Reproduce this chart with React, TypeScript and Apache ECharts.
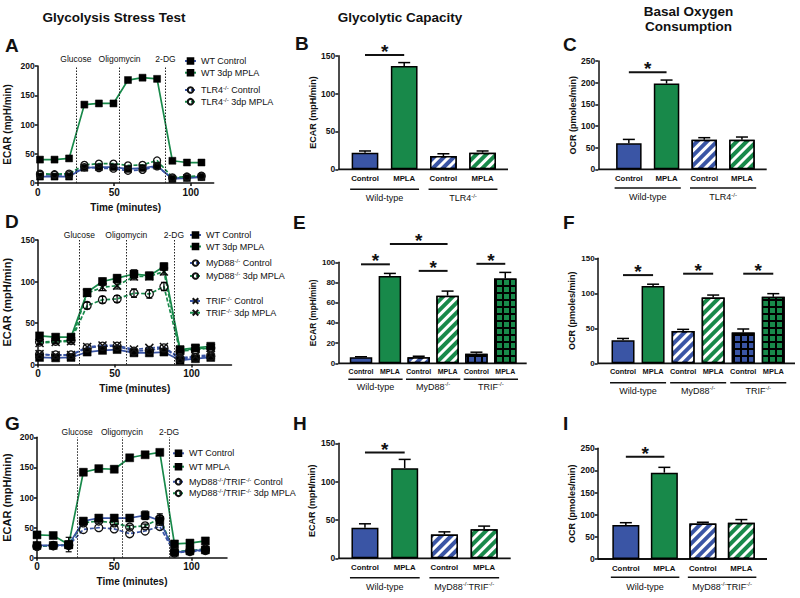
import React, { useEffect, useRef } from "react";
import * as echarts from "echarts";

const FONT = "'Liberation Sans', Arial, Helvetica, sans-serif";
const INK = "#111111";
const BLUE = "#3a55a5";
const GREEN = "#18894a";

// ---------------- texts ----------------
const columnTitles = ["Glycolysis Stress Test", "Glycolytic Capacity", "Basal Oxygen\nConsumption"];
const panelLetters = ["A", "B", "C", "D", "E", "F", "G", "H", "I"];
const injectionLabels = ["Glucose", "Oligomycin", "2-DG"];
const timeTicks = [0, 50, 100];

// ---------------- Panel A ----------------
const timeA = [1.5, 11, 20.5, 30.5, 40, 49.5, 59, 68.5, 78, 88, 97.5, 107];
const injectionA = [25, 53.5, 83.5];
const aWtControl = [11, 11, 11, 26, 27, 27, 24, 25.5, 29.5, 7, 8.5, 10];
const aWtMpla = [40, 40, 42, 134, 136, 136, 176, 180, 178, 38, 35, 35];
const aTlr4Control = [14, 14, 13.5, 27, 25.5, 24.5, 21, 22.5, 28.5, 8, 10, 11];
const aTlr4Mpla = [16, 15, 16, 31, 33, 33, 30, 31, 38.5, 9.5, 11, 12.5];

// ---------------- Panel D ----------------
const timeD = [1, 11.5, 21.5, 32, 42, 51.5, 62.5, 72.5, 82, 92.5, 102.5, 112.5];
const injectionD = [27, 57.5, 88.5];
const dWtControl = [8.5, 8, 8.5, 15, 17, 18, 14, 14, 15, 5, 7, 8.5];
const dWtMpla = [34.5, 33, 33, 87, 100, 104, 109, 107, 118, 18, 20, 22];
const dMyd88Control = [12, 11.5, 11.5, 20, 22, 22, 16, 17, 20, 7, 8.5, 10];
const dMyd88Mpla = [27, 28, 29, 71, 78, 79, 86, 85, 94, 16, 18, 20];
const dTrifControl = [12.5, 11, 11.5, 21, 23, 23, 18, 20, 21, 8, 10, 11.5];
const dTrifMpla = [26, 27, 28, 86, 93, 95, 106, 106, 112, 17, 19, 20];
const dWtMplaSem = [2, 2, 2, 4, 4, 4, 5, 4, 4, 2, 2, 2];
const dMyd88MplaSem = [2, 2, 2, 4, 4, 4, 5, 5, 5, 2, 2, 2];
const dTrifMplaSem = [2, 2, 2, 4, 4, 4, 4, 4, 4, 2, 2, 2];

// ---------------- Panel G ----------------
const timeG = [0, 10.5, 20.5, 30, 40, 50, 60, 70, 79.5, 89, 99, 109];
const injectionG = [26, 55, 85.5];
const gWtControl = [20.5, 20.5, 21.5, 61, 66, 66, 66, 70.5, 62, 9, 11.5, 13];
const gWtMpla = [38, 37, 22, 142, 148, 147, 166, 171, 175, 23, 24.5, 28];
const gDkoControl = [19, 20, 20.5, 47, 50, 48, 40, 44.5, 52, 8, 10.5, 12];
const gDkoMpla = [19.5, 20.5, 21.5, 58, 61, 58, 51, 53, 65, 10.5, 12, 14.5];
const gWtControlSem = [2, 2, 2, 4, 4, 4, 4, 7, 8, 2, 2, 2];
const gWtMplaSem = [2, 2, 12, 5, 5, 5, 4, 4, 3, 2, 2, 2];
const gDkoMplaSem = [1, 1, 1, 3, 3, 3, 3, 3, 8, 1, 1, 1];

// ---------------- Bar panels ----------------
const pairCategories = ["Control", "MPLA", "Control", "MPLA"];
const tripleCategories = ["Control", "MPLA", "Control", "MPLA", "Control", "MPLA"];
const pairColors = [BLUE, GREEN, BLUE, GREEN];
const tripleColors = [BLUE, GREEN, BLUE, GREEN, BLUE, GREEN];
const pairFills = ["solid", "solid", "stripe", "stripe"];
const tripleFills = ["solid", "solid", "stripe", "stripe", "grid", "grid"];

const bValues = [22, 136.5, 17.5, 22];
const bSem = [2.2, 4.4, 3, 2.2];
const bGroups = ["Wild-type", "TLR4{s|-/-}"];
const bSignificance = [[0, 1, 151]];

const cValues = [60, 198, 68, 68];
const cSem = [9, 8, 5, 6.5];
const cGroups = ["Wild-type", "TLR4{s|-/-}"];
const cSignificance = [[0, 1, 224]];

const eValues = [6, 86.5, 6, 67, 9.5, 84];
const eSem = [0.5, 2.5, 1, 4.5, 1.5, 6];
const eGroups = ["Wild-type", "MyD88{s|-/-}", "TRIF{s|-/-}"];
const eSignificance = [[0, 1, 98], [1, 3, 118], [2, 3, 91.5], [4, 5, 98.5]];

const fValues = [33, 110.5, 46, 94, 44, 95];
const fSem = [2.5, 2.5, 2.5, 3.5, 5, 4.5];
const fGroups = ["Wild-type", "MyD88{s|-/-}", "TRIF{s|-/-}"];
const fSignificance = [[0, 1, 126], [2, 3, 128], [4, 5, 128]];

const hValues = [40, 117.5, 31, 38];
const hSem = [5, 11.5, 3.5, 4];
const hGroups = ["Wild-type", "MyD88{s|-/-}TRIF{s|-/-}"];
const hSignificance = [[0, 1, 138]];

const iValues = [77, 195, 80, 82];
const iSem = [5, 12, 3, 7];
const iGroups = ["Wild-type", "MyD88{s|-/-}TRIF{s|-/-}"];
const iSignificance = [[0, 1, 231]];

// ---------------- layout ----------------
const titlePos = [[114, 17], [400, 17], [688.5, 19]];
const letterPos = [[5, 45], [295, 43.5], [563, 44], [5, 221], [293, 222], [563, 222], [5, 423.5], [293, 423.5], [563, 423.5]];

const supRich = {
  s: { fontSize: 6, lineHeight: 7, verticalAlign: "top", fontFamily: FONT, color: INK, fill: INK },
};

type SeriesSpec = { label: string; data: number[]; sem?: number[]; color: string; dashed: boolean; marker: string };

const linePanels: any[] = [
  {
    key: "A",
    grid: { left: 37.7, top: 66, width: 176, height: 117 },
    xMax: 115, yMax: 200, injDist: 3, yNameSize: 10, yNameGap: 25, markerSize: 7,
    times: timeA, injections: injectionA,
    series: [
      { label: "WT Control", data: aWtControl, color: BLUE, dashed: false, marker: "square" },
      { label: "WT 3dp MPLA", data: aWtMpla, color: GREEN, dashed: false, marker: "square" },
      { label: "TLR4{s|-/-} Control", data: aTlr4Control, color: BLUE, dashed: true, marker: "circle" },
      { label: "TLR4{s|-/-} 3dp MPLA", data: aTlr4Mpla, color: GREEN, dashed: true, marker: "circle" },
    ] as SeriesSpec[],
    legends: [
      { left: 184, top: 56, items: [0, 1], gap: 1.7 },
      { left: 184, top: 85, items: [2, 3], gap: 1.7 },
    ],
  },
  {
    key: "D",
    grid: { left: 37.5, top: 240, width: 194, height: 124.5 },
    xMax: 126, yMax: 150, injDist: 1, yNameSize: 11, yNameGap: 26, markerSize: 8,
    times: timeD, injections: injectionD,
    series: [
      { label: "WT Control", data: dWtControl, color: BLUE, dashed: false, marker: "square" },
      { label: "MyD88{s|-/-} Control", data: dMyd88Control, color: BLUE, dashed: true, marker: "circle" },
      { label: "TRIF{s|-/-} Control", data: dTrifControl, color: BLUE, dashed: true, marker: "cross" },
      { label: "MyD88{s|-/-} 3dp MPLA", data: dMyd88Mpla, sem: dMyd88MplaSem, color: GREEN, dashed: true, marker: "circle" },
      { label: "TRIF{s|-/-} 3dp MPLA", data: dTrifMpla, sem: dTrifMplaSem, color: GREEN, dashed: true, marker: "cross" },
      { label: "WT 3dp MPLA", data: dWtMpla, sem: dWtMplaSem, color: GREEN, dashed: false, marker: "square" },
    ] as SeriesSpec[],
    legends: [
      { left: 189, top: 230, items: [0, 5], gap: 1.5 },
      { left: 189, top: 258, items: [1, 3], gap: 3 },
      { left: 189, top: 296, items: [2, 4], gap: 1.7 },
    ],
  },
  {
    key: "G",
    grid: { left: 36, top: 437.3, width: 191, height: 120.5 },
    xMax: 123, yMax: 200, injDist: 1, yNameSize: 11, yNameGap: 25, markerSize: 8,
    times: timeG, injections: injectionG,
    series: [
      { label: "MyD88{s|-/-}/TRIF{s|-/-} Control", data: gDkoControl, color: BLUE, dashed: true, marker: "circle" },
      { label: "MyD88{s|-/-}/TRIF{s|-/-} 3dp MPLA", data: gDkoMpla, sem: gDkoMplaSem, color: GREEN, dashed: true, marker: "circle" },
      { label: "WT Control", data: gWtControl, sem: gWtControlSem, color: BLUE, dashed: false, marker: "square" },
      { label: "WT MPLA", data: gWtMpla, sem: gWtMplaSem, color: GREEN, dashed: false, marker: "square" },
    ] as SeriesSpec[],
    legends: [
      { left: 172, top: 448.3, items: [2, 3], gap: 3.4 },
      { left: 172, top: 476.7, items: [0, 1], gap: 1.6 },
    ],
  },
];

const barPanels: any[] = [
  { key: "B", grid: { left: 345.4, top: 55.7, width: 156.8, height: 113.6 }, yOffset: 7.1, axisEnd: 508, yMax: 150, yInterval: 50,
    yName: "ECAR (mpH/min)", yNameGap: 20, barWidth: 26.7, catSize: 7.8, tickSize: 8.5,
    categories: pairCategories, values: bValues, sem: bSem, colors: pairColors, fills: pairFills, groups: bGroups, sig: bSignificance,
    underlineGap: 20, groupLabelGap: 28.7 },
  { key: "C", grid: { left: 610, top: 61, width: 150.8, height: 108.3 }, yOffset: 11.7, axisEnd: 766.7, yMax: 250, yInterval: 50,
    yName: "OCR (pmoles/min)", yNameGap: 20, barWidth: 25.5, catSize: 7.8, tickSize: 8.5,
    categories: pairCategories, values: cValues, sem: cSem, colors: pairColors, fills: pairFills, groups: cGroups, sig: cSignificance,
    underlineGap: 18.7, groupLabelGap: 27.7 },
  { key: "E", grid: { left: 346.6, top: 262.3, width: 173.1, height: 101 }, yOffset: 8.3, axisEnd: 526.7, yMax: 100, yInterval: 20,
    yName: "ECAR (mpH/min)", yNameGap: 21.5, yNameSize: 8.3, barWidth: 22.5, catSize: 7, tickSize: 8,
    categories: tripleCategories, values: eValues, sem: eSem, colors: tripleColors, fills: tripleFills, groups: eGroups, sig: eSignificance,
    underlineGap: 16, groupLabelGap: 23.4 },
  { key: "F", grid: { left: 608, top: 258.3, width: 180.3, height: 105 }, yOffset: 10.3, axisEnd: 795, yMax: 150, yInterval: 50,
    yName: "OCR (pmoles/min)", yNameGap: 21, barWidth: 23, catSize: 7.4, tickSize: 8,
    categories: tripleCategories, values: fValues, sem: fSem, colors: tripleColors, fills: tripleFills, groups: fGroups, sig: fSignificance,
    underlineGap: 19.4, groupLabelGap: 27.4 },
  { key: "H", grid: { left: 345.1, top: 443.3, width: 158.9, height: 115 }, yOffset: 6.8, axisEnd: 510.7, yMax: 150, yInterval: 50,
    yName: "ECAR (mpH/min)", yNameGap: 22, barWidth: 27, catSize: 7.8, tickSize: 8.5,
    categories: pairCategories, values: hValues, sem: hSem, colors: pairColors, fills: pairFills, groups: hGroups, sig: hSignificance,
    underlineGap: 19.4, groupLabelGap: 28.4 },
  { key: "I", grid: { left: 606.6, top: 448.3, width: 154, height: 110.7 }, yOffset: 8.9, axisEnd: 767, yMax: 250, yInterval: 50,
    yName: "OCR (pmoles/min)", yNameGap: 21, barWidth: 27, catSize: 7.8, tickSize: 8.5,
    categories: pairCategories, values: iValues, sem: iSem, colors: pairColors, fills: pairFills, groups: iGroups, sig: iSignificance,
    underlineGap: 18.3, groupLabelGap: 27.7 },
];

const markerStyle = (marker: string, size: number) => {
  if (marker === "square") return { symbol: "rect", symbolSize: size, itemStyle: { color: "#000", borderColor: "#000", borderWidth: 0.5 } };
  if (marker === "circle") return { symbol: "circle", symbolSize: size, itemStyle: { color: "rgba(255,255,255,0)", borderColor: "#111", borderWidth: 1.3 } };
  return { symbol: "path://M0,0L10,10M10,0L0,10", symbolSize: size, itemStyle: { color: "rgba(255,255,255,0)", borderColor: "#111", borderWidth: 1.5 } };
};

const decalFor = (fill: string, color: string) => {
  if (fill === "stripe")
    return { symbol: "rect", symbolSize: 1, dashArrayX: [1, 0], dashArrayY: [2.5, 4], rotation: -Math.PI / 4, color: "#ffffff" };
  if (fill === "grid")
    return { symbol: "rect", symbolSize: 1, dashArrayX: [5, 2], dashArrayY: [5, 2], color };
  return undefined;
};

const lineErrRender = (cap: number) => (_params: any, api: any) => {
  const x = api.value(0);
  const y = api.value(1);
  const e = api.value(2);
  const lo = api.coord([x, y - e]);
  const hi = api.coord([x, y + e]);
  const style = { stroke: "#000", lineWidth: 1.2 };
  return {
    type: "group",
    children: [
      { type: "line", shape: { x1: hi[0], y1: hi[1], x2: lo[0], y2: lo[1] }, style },
      { type: "line", shape: { x1: hi[0] - cap, y1: hi[1], x2: hi[0] + cap, y2: hi[1] }, style },
      { type: "line", shape: { x1: lo[0] - cap, y1: lo[1], x2: lo[0] + cap, y2: lo[1] }, style },
    ],
  };
};

const barErrRender = (cap: number) => (_params: any, api: any) => {
  const x = api.value(0);
  const y = api.value(1);
  const e = api.value(2);
  const base = api.coord([x, y]);
  const hi = api.coord([x, y + e]);
  const style = { stroke: "#000", lineWidth: 1.5 };
  return {
    type: "group",
    children: [
      { type: "line", shape: { x1: hi[0], y1: hi[1], x2: base[0], y2: base[1] }, style },
      { type: "line", shape: { x1: hi[0] - cap, y1: hi[1], x2: hi[0] + cap, y2: hi[1] }, style },
    ],
  };
};

const axisLineStyle = { color: INK, width: 1.5 };

function buildOption() {
  const grids: any[] = [];
  const xAxes: any[] = [];
  const yAxes: any[] = [];
  const series: any[] = [];
  const legends: any[] = [];
  const legendLabels: Record<string, string> = {};

  linePanels.forEach((p, gi) => {
    grids.push({ ...p.grid, containLabel: false });
    xAxes.push({
      type: "value", gridIndex: gi, min: 0, max: p.xMax, interval: 50,
      name: "Time (minutes)", nameLocation: "middle", nameGap: 19,
      nameTextStyle: { fontWeight: "bold", fontSize: 10, color: INK, fontFamily: FONT },
      axisLine: { show: true, onZero: false, lineStyle: axisLineStyle },
      axisTick: { show: true, length: 3, customValues: timeTicks, lineStyle: axisLineStyle },
      axisLabel: { customValues: timeTicks, fontWeight: "bold", fontSize: 10, color: INK, margin: 4, fontFamily: FONT },
      splitLine: { show: false },
    });
    yAxes.push({
      type: "value", gridIndex: gi, min: 0, max: p.yMax, interval: 50,
      name: "ECAR (mpH/min)", nameLocation: "middle", nameGap: p.yNameGap,
      nameTextStyle: { fontWeight: "bold", fontSize: p.yNameSize, color: INK, fontFamily: FONT },
      axisLine: { show: true, onZero: false, lineStyle: axisLineStyle },
      axisTick: { show: true, length: 3, lineStyle: axisLineStyle },
      axisLabel: { fontWeight: "bold", fontSize: 8.5, color: INK, margin: 3, fontFamily: FONT },
      splitLine: { show: false },
    });
    p.series.forEach((s: SeriesSpec, si: number) => {
      const name = `${p.key}:${s.label}`;
      legendLabels[name] = s.label;
      const ser: any = {
        type: "line", name, xAxisIndex: gi, yAxisIndex: gi,
        data: p.times.map((t: number, j: number) => [t, s.data[j]]),
        lineStyle: { color: s.color, width: 1.7, type: s.dashed ? [4, 2] : "solid" },
        ...markerStyle(s.marker, p.markerSize),
        emphasis: { disabled: true },
        z: 3,
      };
      if (si === 0) {
        ser.markLine = {
          silent: true, symbol: ["none", "none"],
          lineStyle: { color: "#222", width: 1, type: [1.5, 1.5] },
          label: { show: true, position: "end", formatter: "{b}", color: INK, fontSize: 8.5, fontFamily: FONT, distance: p.injDist },
          emphasis: { disabled: true },
          data: p.injections.map((x: number, j: number) => ({ name: injectionLabels[j], xAxis: x })),
        };
      }
      series.push(ser);
      if (s.sem) {
        series.push({
          type: "custom", xAxisIndex: gi, yAxisIndex: gi, silent: true, z: 4,
          renderItem: lineErrRender(3),
          data: p.times.map((t: number, j: number) => [t, s.data[j], s.sem![j]]),
        });
      }
    });
    p.legends.forEach((lg: any) => {
      legends.push({
        left: lg.left, top: lg.top, orient: "vertical", padding: 0, itemGap: lg.gap,
        itemWidth: 11, itemHeight: 7, selectedMode: false,
        data: lg.items.map((k: number) => `${p.key}:${p.series[k].label}`),
        formatter: (n: string) => legendLabels[n] ?? n,
        textStyle: { fontSize: 9, color: INK, fontFamily: FONT, lineHeight: 10, rich: supRich },
      });
    });
  });

  barPanels.forEach((p, k) => {
    const gi = linePanels.length + k;
    grids.push({ ...p.grid, containLabel: false });
    xAxes.push({
      type: "category", gridIndex: gi, data: p.categories,
      axisLine: { show: false }, axisTick: { show: false },
      axisLabel: { interval: 0, fontWeight: "bold", fontSize: p.catSize, color: INK, margin: 5, fontFamily: FONT },
      splitLine: { show: false },
    });
    yAxes.push({
      type: "value", gridIndex: gi, min: 0, max: p.yMax, interval: p.yInterval, offset: p.yOffset,
      name: p.yName, nameLocation: "middle", nameGap: p.yNameGap,
      nameTextStyle: { fontWeight: "bold", fontSize: p.yNameSize ?? 9, color: INK, fontFamily: FONT },
      axisLine: { show: true, onZero: false, lineStyle: axisLineStyle },
      axisTick: { show: true, length: 3, lineStyle: axisLineStyle },
      axisLabel: { fontWeight: "bold", fontSize: p.tickSize, color: INK, margin: 3, fontFamily: FONT },
      splitLine: { show: false },
    });
    series.push({
      type: "bar", xAxisIndex: gi, yAxisIndex: gi, barWidth: p.barWidth, silent: true, z: 2,
      data: p.values.map((v: number, j: number) => {
        const fill = p.fills[j];
        const decal = decalFor(fill, p.colors[j]);
        // grid bars: black base with coloured squares so the black shows as a lattice
        const itemStyle: any = { color: fill === "grid" ? "#000000" : p.colors[j], borderColor: "#000", borderWidth: 1.5 };
        if (decal) itemStyle.decal = decal;
        return { value: v, itemStyle };
      }),
    });
    series.push({
      type: "custom", xAxisIndex: gi, yAxisIndex: gi, silent: true, z: 4,
      renderItem: barErrRender(6),
      data: p.values.map((v: number, j: number) => [j, v, p.sem[j]]),
    });
  });

  return {
    animation: false,
    backgroundColor: "#ffffff",
    textStyle: { fontFamily: FONT },
    grid: grids,
    xAxis: xAxes,
    yAxis: yAxes,
    legend: legends,
    series,
  };
}

function buildGraphics(chart: any) {
  const els: any[] = [];
  const ink = { fill: INK };

  columnTitles.forEach((t, i) => {
    els.push({
      type: "text", silent: true,
      style: { text: t, x: titlePos[i][0], y: titlePos[i][1], align: "center", verticalAlign: "middle",
        fontSize: 13.5, fontWeight: "bold", fontFamily: FONT, lineHeight: 14.5, ...ink },
    });
  });
  panelLetters.forEach((t, i) => {
    els.push({
      type: "text", silent: true,
      style: { text: t, x: letterPos[i][0], y: letterPos[i][1], align: "left", verticalAlign: "middle",
        fontSize: 19, fontWeight: "bold", fontFamily: FONT, ...ink },
    });
  });

  barPanels.forEach((p, k) => {
    const gi = linePanels.length + k;
    const toPx = (c: number, v: number) => chart.convertToPixel({ gridIndex: gi }, [c, v]);
    const axisY = toPx(0, 0)[1];
    const half = p.barWidth / 2;
    els.push({
      type: "line", silent: true,
      shape: { x1: p.grid.left - p.yOffset, y1: axisY, x2: p.axisEnd, y2: axisY },
      style: { stroke: INK, lineWidth: 1.8 },
    });
    p.groups.forEach((label: string, g: number) => {
      const a = toPx(2 * g, 0)[0];
      const b = toPx(2 * g + 1, 0)[0];
      const uy = axisY + p.underlineGap;
      els.push({
        type: "line", silent: true,
        shape: { x1: a - half - 1.5, y1: uy, x2: b + half + 1.5, y2: uy },
        style: { stroke: INK, lineWidth: 1.4 },
      });
      els.push({
        type: "text", silent: true,
        style: { text: label, x: (a + b) / 2, y: axisY + p.groupLabelGap, align: "center", verticalAlign: "middle",
          fontSize: 9, fontFamily: FONT, lineHeight: 11, rich: supRich, ...ink },
      });
    });
    p.sig.forEach((s: number[]) => {
      const a = toPx(s[0], s[2]);
      const b = toPx(s[1], s[2]);
      els.push({
        type: "line", silent: true,
        shape: { x1: a[0], y1: a[1], x2: b[0], y2: b[1] },
        style: { stroke: INK, lineWidth: 2 },
      });
      els.push({
        type: "text", silent: true,
        style: { text: "*", x: (a[0] + b[0]) / 2, y: a[1] - 3.5, align: "center", verticalAlign: "middle",
          fontSize: 19, fontWeight: "bold", fontFamily: FONT, ...ink },
      });
    });
  });
  return els;
}

export default function App() {
  const ref = useRef<HTMLDivElement>(null);
  useEffect(() => {
    const chart = echarts.init(ref.current!, null, { renderer: "svg" });
    chart.setOption(buildOption() as any);
    chart.setOption({ graphic: { elements: buildGraphics(chart) } } as any);
    return () => chart.dispose();
  }, []);
  return (
    <div
      ref={ref}
      style={{ position: "fixed", left: 0, top: 0, width: 800, height: 598, background: "#fff" }}
    />
  );
}
